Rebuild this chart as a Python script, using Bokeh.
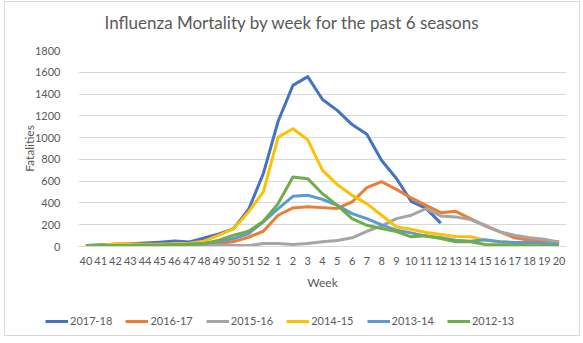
import math
from bokeh.plotting import figure
from bokeh.layouts import column, row
from bokeh.models import ColumnDataSource, FactorRange, Legend, LegendItem, Range1d, Label
from bokeh.embed import file_html
from bokeh.resources import INLINE

weeks = ["40", "41", "42", "43", "44", "45", "46", "47", "48", "49", "50", "51", "52",
         "1", "2", "3", "4", "5", "6", "7", "8", "9", "10", "11", "12", "13", "14",
         "15", "16", "17", "18", "19", "20"]

NA = float("nan")
s2017_18 = [10, 15, 20, 25, 32, 40, 50, 42, 78, 115, 165, 340, 670, 1150, 1480, 1560, 1350, 1250,
            1120, 1030, 790, 625, 415, 350, 215, NA, NA, NA, NA, NA, NA, NA, NA]
s2016_17 = [5, 8, 12, 10, 8, 8, 10, 12, 15, 25, 45, 85, 140, 287, 354, 366, 357, 350,
            409, 540, 595, 525, 446, 378, 311, 323, 256, 190, 134, 80, 58, 49, 43]
s2015_16 = [10, 12, 12, 10, 10, 10, 10, 12, 10, 10, 12, 8, 27, 27, 18, 27, 43, 55,
            80, 140, 190, 256, 287, 348, 281, 272, 247, 195, 134, 104, 80, 67, 40]
s2014_15 = [5, 10, 25, 22, 20, 20, 25, 30, 49, 104, 165, 318, 501, 1005, 1081, 980, 699, 568,
            470, 394, 287, 180, 159, 128, 110, 92, 89, 58, 43, 37, 25, 22, 25]
s2013_14 = [5, 8, 10, 10, 12, 12, 15, 20, 25, 45, 73, 119, 226, 348, 461, 470, 433, 378,
            302, 256, 198, 150, 125, 95, 80, 58, 49, 61, 43, 37, 37, 27, 22]
s2012_13 = [5, 8, 10, 10, 12, 12, 15, 20, 27, 58, 104, 140, 232, 394, 638, 623, 485, 378,
            256, 195, 165, 137, 89, 98, 73, 43, 43, 18, 15, 12, 8, 5, 5]

seasons = ["2017-18", "2016-17", "2015-16", "2014-15", "2013-14", "2012-13"]
series = [s2017_18, s2016_17, s2015_16, s2014_15, s2013_14, s2012_13]
colors = ["#4472C4", "#ED7D31", "#A5A5A5", "#FFC000", "#5B9BD5", "#70AD47"]

yticks = [0, 200, 400, 600, 800, 1000, 1200, 1400, 1600, 1800]

TITLE = "Influenza Mortality by week for the past 6 seasons"
FONT = "Lato"
TXT = "#595959"
BORDER = "1px solid #D9D9D9"


def strip(height, borders):
    f = figure(width=576, height=height, x_range=Range1d(0, 576), y_range=Range1d(0, height),
               x_axis_location=None, y_axis_location=None, title=None,
               output_backend="svg", toolbar_location=None,
               min_border_left=0, min_border_right=0, min_border_top=0, min_border_bottom=0,
               styles={b: BORDER for b in borders})
    f.grid.visible = False
    f.outline_line_color = None
    f.background_fill_color = "white"
    f.border_fill_color = "white"
    return f


# title strip
t = strip(36, ["border-top", "border-left", "border-right"])
t.add_layout(Label(x=99, y=16, text=TITLE, text_font=FONT, text_font_size="17px",
                   text_color=TXT, text_align="left", text_baseline="middle"))

# main chart
p = figure(width=576, height=261, x_range=FactorRange(*weeks, range_padding=0),
           y_range=(0, 1800), output_backend="svg", toolbar_location=None, title=None,
           min_border_left=73, min_border_right=15, min_border_top=13, min_border_bottom=52,
           styles={"border-left": BORDER, "border-right": BORDER})

src = ColumnDataSource(data=dict(week=weeks, **{f"s{i}": s for i, s in enumerate(series)}))
for i, col in enumerate(colors):
    p.line("week", f"s{i}", source=src, line_color=col, line_width=3, line_join="round")

p.outline_line_color = None
p.background_fill_color = "white"
p.border_fill_color = "white"

p.xgrid.grid_line_color = None
p.ygrid.grid_line_color = "#D9D9D9"
p.ygrid.grid_line_width = 1

p.yaxis.ticker = yticks
p.yaxis.axis_line_color = None
p.yaxis.major_tick_line_color = None
p.yaxis.minor_tick_line_color = None
p.yaxis.major_label_standoff = 12
p.yaxis.major_label_text_font = FONT
p.yaxis.major_label_text_font_size = "11px"
p.yaxis.major_label_text_color = TXT
p.yaxis.axis_label = "Fatalities"
p.yaxis.axis_label_text_font = FONT
p.yaxis.axis_label_text_font_size = "12px"
p.yaxis.axis_label_text_font_style = "normal"
p.yaxis.axis_label_text_color = TXT
p.yaxis.axis_label_standoff = -5

p.xaxis.axis_line_color = "#D9D9D9"
p.xaxis.major_tick_line_color = None
p.xaxis.minor_tick_line_color = None
p.xaxis.major_label_standoff = 4
p.xaxis.major_label_text_font = FONT
p.xaxis.major_label_text_font_size = "11px"
p.xaxis.major_label_text_color = TXT
p.xaxis.axis_label = "Week"
p.xaxis.axis_label_text_font = FONT
p.xaxis.axis_label_text_font_size = "12px"
p.xaxis.axis_label_text_font_style = "normal"
p.xaxis.axis_label_text_color = TXT
p.xaxis.axis_label_standoff = 7

# legend strip
q = strip(38, ["border-bottom", "border-left", "border-right"])
leg_renderers = [q.line(x=[NA], y=[NA], line_color=col, line_width=3) for col in colors]
items = [LegendItem(label=n, renderers=[r]) for n, r in zip(seasons, leg_renderers)]
legend = Legend(items=items, orientation="horizontal", location=(40, 9),
                glyph_width=23, glyph_height=12, label_standoff=2, spacing=13,
                padding=0, margin=0, border_line_color=None, background_fill_alpha=0,
                label_text_font=FONT, label_text_font_size="11px", label_text_color=TXT)
q.add_layout(legend, "center")

layout = column(row(t), p, row(q), spacing=0, styles={"margin-left": "4px", "margin-top": "1px"})

open("out.html", "w").write(file_html(layout, INLINE))
